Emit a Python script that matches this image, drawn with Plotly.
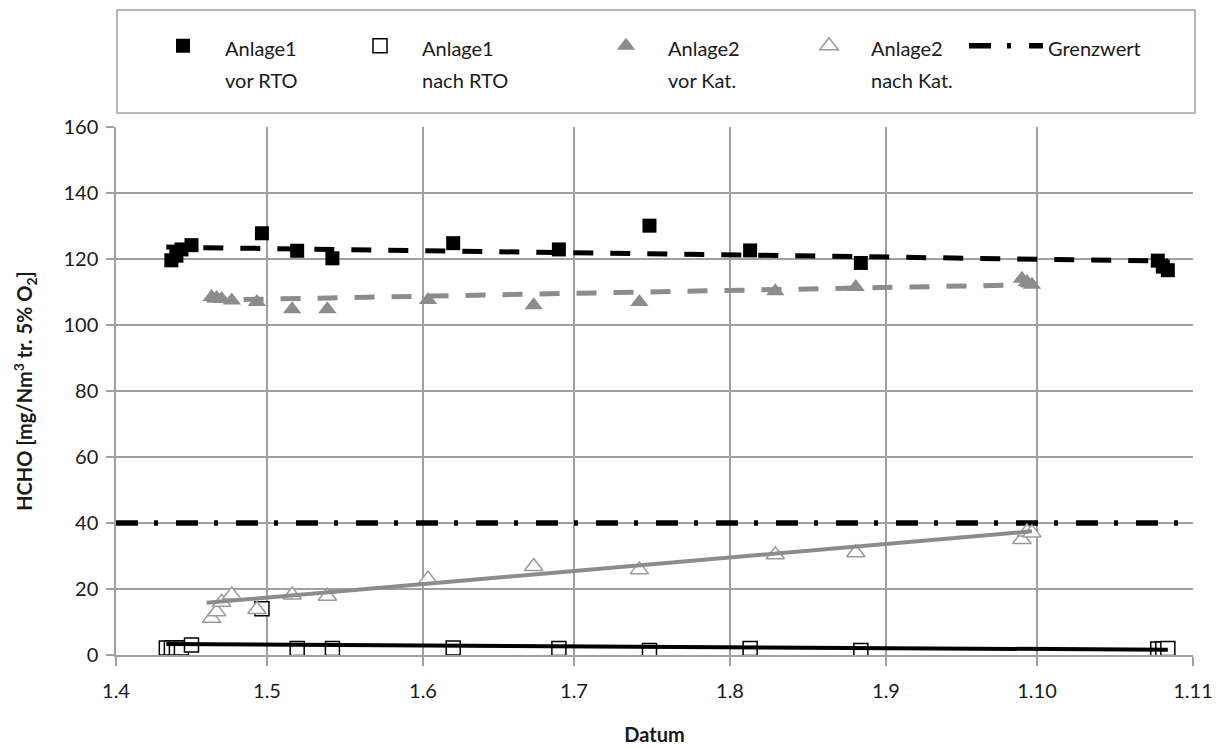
import plotly.graph_objects as go

# ---------------- data ----------------
a1_vor_dates = ["2013-04-12", "2013-04-13", "2013-04-14", "2013-04-16", "2013-04-30",
                "2013-05-07", "2013-05-14", "2013-06-07", "2013-06-28", "2013-07-16",
                "2013-08-05", "2013-08-27", "2013-10-25", "2013-10-26", "2013-10-27"]
a1_vor_vals = [119.6, 121.0, 122.9, 124.2, 127.8, 122.5, 120.2, 124.8, 122.9, 130.1,
               122.6, 118.8, 119.5, 117.7, 116.6]

a1_nach_dates = ["2013-04-11", "2013-04-12", "2013-04-13", "2013-04-14", "2013-04-16",
                 "2013-04-30", "2013-05-07", "2013-05-14", "2013-06-07", "2013-06-28",
                 "2013-07-16", "2013-08-05", "2013-08-27", "2013-10-25", "2013-10-26",
                 "2013-10-27"]
a1_nach_vals = [2.1, 2.1, 2.1, 2.1, 3.0, 14.0, 2.0, 2.0, 2.1, 2.0, 1.4, 2.0, 1.4, 1.8, 1.8, 2.0]

a2_dates = ["2013-04-20", "2013-04-21", "2013-04-22", "2013-04-24", "2013-04-29",
            "2013-05-06", "2013-05-13", "2013-06-02", "2013-06-23", "2013-07-14",
            "2013-08-10", "2013-08-26", "2013-09-28", "2013-09-29", "2013-09-30"]
a2_vor_vals = [108.5, 108.2, 107.9, 107.4, 107.0, 104.8, 104.8, 107.6, 106.0, 107.0,
               110.2, 111.5, 114.0, 113.0, 112.2]
a2_nach_vals = [11.1, 13.1, 16.0, 18.2, 13.8, 18.2, 17.8, 23.0, 26.8, 25.8,
                30.4, 31.0, 35.0, 37.3, 37.0]

# trend lines (start / end values)
trend_a1_dates = ["2013-04-11", "2013-10-27"]
trend_a1_vor = [123.6, 119.4]
trend_a1_nach = [3.3, 1.6]
trend_a2_dates = ["2013-04-19", "2013-09-30"]
trend_a2_vor = [107.5, 112.2]
trend_a2_nach = [15.8, 37.5]

grenz_dates = ["2013-04-01", "2013-11-01"]
grenz_vals = [40, 40]

names = ["Anlage1<br>vor RTO", "Anlage1<br>nach RTO", "Anlage2<br>vor Kat.",
         "Anlage2<br>nach Kat.", "Grenzwert"]

FONT = "Lato, 'Open Sans', sans-serif"
GRID = "#a0a0a0"
GRAY = "#8c8c8c"
TXT = 20
LEGF = 25


def legname(s):
    return "<br>".join(f"<span style='font-size:{TXT}px'>{p}</span>" for p in s.split("<br>"))


fig = go.Figure()

fig.add_trace(go.Scatter(x=grenz_dates, y=grenz_vals, mode="lines", name=legname(names[4]),
                         line=dict(color="black", width=5.5, dash="22px,16px,4px,18px"),
                         legend="legend5"))

fig.add_trace(go.Scatter(x=a1_vor_dates, y=a1_vor_vals, mode="markers", name=legname(names[0]),
                         marker=dict(symbol="square", size=14, color="black"),
                         legend="legend"))
fig.add_trace(go.Scatter(x=a1_nach_dates, y=a1_nach_vals, mode="markers", name=legname(names[1]),
                         marker=dict(symbol="square", size=14, color="white",
                                     line=dict(color="black", width=1.5)),
                         legend="legend2"))
fig.add_trace(go.Scatter(x=a2_dates, y=a2_vor_vals, mode="markers", name=legname(names[2]),
                         marker=dict(symbol="triangle-up", size=16, color=GRAY),
                         legend="legend3"))
fig.add_trace(go.Scatter(x=a2_dates, y=a2_nach_vals, mode="markers", name=legname(names[3]),
                         marker=dict(symbol="triangle-up", size=16, color="white",
                                     line=dict(color="#9a9a9a", width=1.5)),
                         legend="legend4"))

# trend lines
fig.add_trace(go.Scatter(x=trend_a1_dates, y=trend_a1_vor, mode="lines", showlegend=False,
                         line=dict(color="black", width=5, dash="20px,17px")))
fig.add_trace(go.Scatter(x=trend_a1_dates, y=trend_a1_nach, mode="lines", showlegend=False,
                         line=dict(color="black", width=4)))
fig.add_trace(go.Scatter(x=trend_a2_dates, y=trend_a2_vor, mode="lines", showlegend=False,
                         line=dict(color=GRAY, width=5, dash="20px,17px")))
fig.add_trace(go.Scatter(x=trend_a2_dates, y=trend_a2_nach, mode="lines", showlegend=False,
                         line=dict(color=GRAY, width=4)))

W, H = 1230, 749
L, R, T, B = 116, 37, 127, 94
PW, PH = W - L - R, H - T - B


def px(xp):
    return (xp - L) / PW


def py(yp):
    return (H - B - yp) / PH


leg_common = dict(orientation="v", xanchor="left", yanchor="top", bgcolor="rgba(0,0,0,0)",
                  borderwidth=0, itemwidth=74, valign="top",
                  font=dict(family=FONT, size=LEGF, color="#1a1a1a"))
leg_x = [141, 338, 584, 787, 964]
leg_y = 23

layout_legs = {}
for i, key in enumerate(["legend", "legend2", "legend3", "legend4", "legend5"]):
    layout_legs[key] = dict(leg_common, x=px(leg_x[i]), y=py(leg_y))

fig.update_layout(
    width=W, height=H,
    margin=dict(l=L, r=R, t=T, b=B, autoexpand=False),
    paper_bgcolor="white", plot_bgcolor="white",
    font=dict(family=FONT, size=TXT, color="#1a1a1a"),
    showlegend=True,
    **layout_legs,
    xaxis=dict(type="date", range=["2013-04-01", "2013-11-01"], dtick="M1", tick0="2013-04-01",
               tickformat="%-d.%-m", showgrid=True, gridcolor=GRID, gridwidth=1.5,
               showline=True, linecolor=GRID, linewidth=1.5, ticks="outside", ticklen=9,
               tickcolor=GRID, tickwidth=1.5, ticklabelstandoff=8, zeroline=False,
               tickfont=dict(family=FONT, size=TXT, color="#1a1a1a"),
               title=dict(text="<b>Datum</b>", standoff=27,
                          font=dict(family=FONT, size=TXT, color="#1a1a1a"))),
    yaxis=dict(range=[0, 160], dtick=20, showgrid=True, gridcolor=GRID, gridwidth=1.5,
               showline=True, linecolor=GRID, linewidth=1.5, ticks="outside", ticklen=8,
               tickcolor=GRID, tickwidth=1.5, ticklabelstandoff=4, zeroline=False,
               tickfont=dict(family=FONT, size=TXT, color="#1a1a1a"),
               title=dict(text="<b>HCHO [mg/Nm<sup>3</sup> tr. 5% O<sub>2</sub>]</b>", standoff=25,
                          font=dict(family=FONT, size=TXT, color="#1a1a1a"))),
    shapes=[dict(type="rect", xref="paper", yref="paper",
                 x0=px(117), x1=px(1195), y0=py(113), y1=py(10),
                 line=dict(color="#a0a0a0", width=1.5), fillcolor="rgba(0,0,0,0)")],
)

fig.write_html("out.html")
